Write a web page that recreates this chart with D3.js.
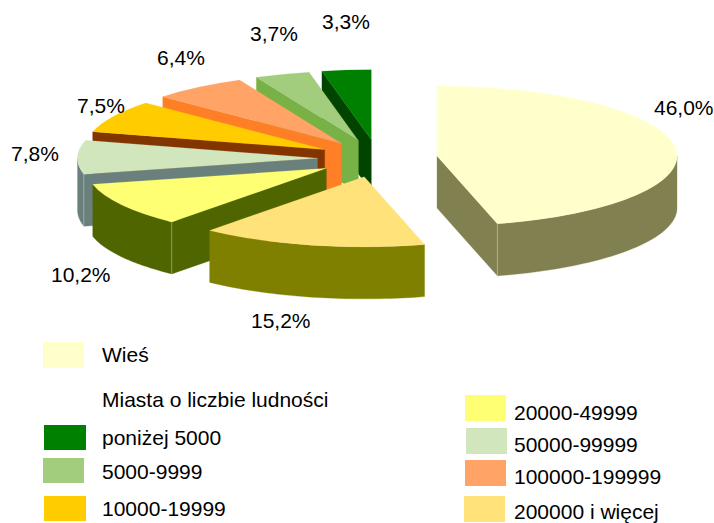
<!DOCTYPE html>
<html><head><meta charset="utf-8">
<style>html,body{margin:0;padding:0;background:#fff}svg{display:block}text{font-family:"Liberation Sans",Arial,sans-serif;fill:#000}</style>
<script src="https://cdnjs.cloudflare.com/ajax/libs/d3/7.8.5/d3.min.js"></script>
</head><body><svg id="c" width="714" height="523"></svg>
<script>
// clockwise from 12 o'clock
const categories = ["Wieś","200000 i więcej","20000-49999","50000-99999","10000-19999","100000-199999","5000-9999","poniżej 5000"];
const values = [46.0,15.2,10.2,7.8,7.5,6.4,3.7,3.3];
const topColors = ["#FFFFCC","#FFE27A","#FFFF73","#D2E6BE","#FFCC00","#FFA366","#A2CD7C","#008000"];
const wallColors = ["#808050","#808000","#4F6600","#69807D","#833500","#FF7F27","#78B146","#004400"];
const legendHeading = "Miasta o liczbie ludności";

const svg = d3.select("#c");
const rx=240, ry=70, depth=52, cx=377.5, cy=158.5, explodeX=0.25, explodeY=0.269;
const pie = d3.pie().sort(null).value(d=>d).startAngle(0).endAngle(2*Math.PI);
const arcs = pie(values);
const arcGen = d3.arc().innerRadius(0).outerRadius(rx);
const sx = d3.scaleLinear().domain([-1,1]).range([-rx,rx]);
const sy = d3.scaleLinear().domain([-1,1]).range([ry,-ry]); // cos up
const proj = a=>[sx(Math.sin(a)), sy(Math.cos(a))];
const line = d3.line();

// back to front
const order = [7,6,5,4,3,2,1,0];
order.forEach(i=>{
  const d = arcs[i];
  const mid = (d.startAngle+d.endAngle)/2;
  const [mx,my] = proj(mid);
  const g = svg.append("g").attr("transform",`translate(${cx+mx*explodeX},${cy+my*explodeY})`);
  const wall = pts => g.append("path").attr("d",line(pts)+"Z").attr("fill",wallColors[i]).attr("stroke",wallColors[i]).attr("stroke-width",0.3);
  const radial = a=>{
    const p = proj(a);
    wall([[0,0],p,[p[0],p[1]+depth],[0,depth]]);
  };
  if(Math.sin(d.startAngle)<-1e-6) radial(d.startAngle);
  if(Math.sin(d.endAngle)>1e-6) radial(d.endAngle);
  // curved outer wall, only the part that faces the viewer
  const a0=Math.max(d.startAngle,Math.PI/2), a1=Math.min(d.endAngle,3*Math.PI/2);
  if(a1>a0){
    const as=d3.range(0,41).map(k=>a0+(a1-a0)*k/40);
    const up=as.map(a=>proj(a));
    const dn=up.map(p=>[p[0],p[1]+depth]).reverse();
    wall(up.concat(dn));
  }
  // light seam at visible front corner
  [d.startAngle,d.endAngle].forEach(a=>{
    if(a>Math.PI/2 && a<3*Math.PI/2 && ((a===d.endAngle&&Math.sin(a)>0)||(a===d.startAngle&&Math.sin(a)<0))){
      const p=proj(a);
      g.append("line").attr("x1",p[0]).attr("x2",p[0]).attr("y1",p[1]).attr("y2",p[1]+depth)
       .attr("stroke","#fff").attr("stroke-opacity",0.3).attr("stroke-width",1);
    }
  });
  g.append("path").attr("d",arcGen(d)).attr("transform",`scale(1,${ry/rx})`)
   .attr("fill",topColors[i]).attr("stroke",topColors[i]).attr("stroke-width",0.3);
});

// value labels
const fmt = v=>d3.format(".1f")(v).replace(".",",")+"%";
const labelPos = [[654,115],[251,328],[51,282],[11,161],[77,113],[157,65],[250,41],[322,29]];
values.forEach((v,i)=>{
  svg.append("text").attr("x",labelPos[i][0]).attr("y",labelPos[i][1]).attr("font-size",21).text(fmt(v));
});

// legend
const legendRows = [
 {c:0,sx:43,sy:342,sw:41,sh:26,tx:102,ty:362},
 {c:7,sx:44,sy:425,sw:42,sh:25,tx:102,ty:445},
 {c:6,sx:43,sy:458,sw:41,sh:25,tx:102,ty:479},
 {c:4,sx:44,sy:496,sw:42,sh:25,tx:102,ty:516},
 {c:2,sx:465,sy:395,sw:41,sh:26,tx:514,ty:420},
 {c:3,sx:466,sy:428,sw:41,sh:26,tx:514,ty:452},
 {c:5,sx:465,sy:460,sw:41,sh:26,tx:514,ty:484},
 {c:1,sx:464,sy:496,sw:41,sh:26,tx:514,ty:519}
];
legendRows.forEach(r=>{
  svg.append("rect").attr("x",r.sx).attr("y",r.sy).attr("width",r.sw).attr("height",r.sh).attr("fill",topColors[r.c]);
  svg.append("text").attr("x",r.tx).attr("y",r.ty).attr("font-size",21).text(categories[r.c]);
});
svg.append("text").attr("x",102).attr("y",407).attr("font-size",21).text(legendHeading);
</script></body></html>
